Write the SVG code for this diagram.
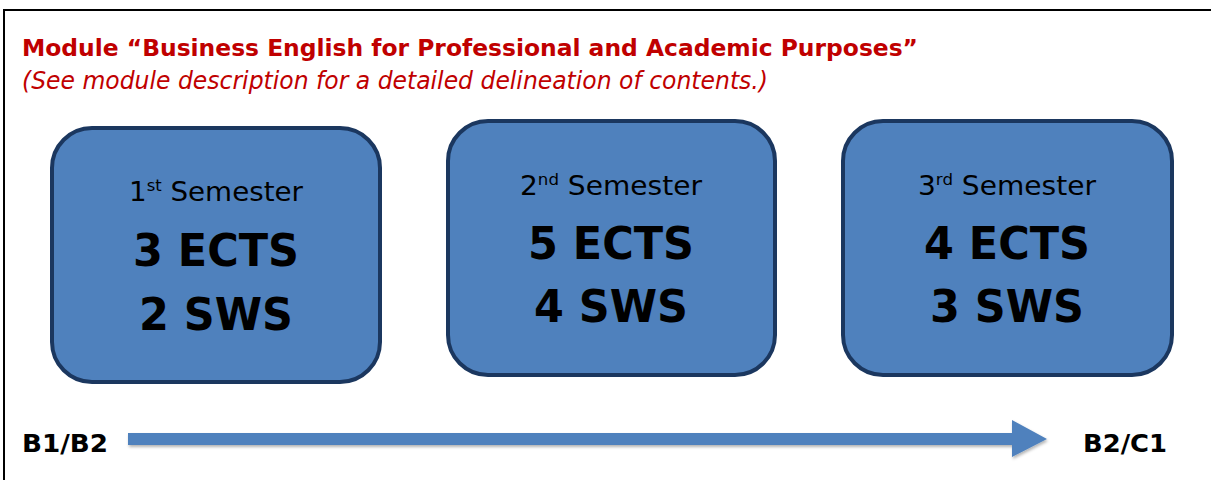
<svg xmlns="http://www.w3.org/2000/svg" width="1211" height="480" viewBox="0 0 1211 480">
<style>
.box{fill:#4F81BD;stroke:#1B375F;stroke-width:4}
.sem{font-family:"DejaVu Sans",sans-serif;font-size:27px;fill:#000;text-anchor:middle}
.big{font-family:"DejaVu Sans",sans-serif;font-weight:bold;font-size:45px;fill:#000;text-anchor:middle}
.lvl{font-family:"DejaVu Sans",sans-serif;font-weight:bold;font-size:25px;fill:#000}
.red{font-family:"DejaVu Sans",sans-serif;fill:#C00000}
</style>
<defs>
<filter id="sh" x="-5%" y="-50%" width="110%" height="200%"><feDropShadow dx="1" dy="2" stdDeviation="1.5" flood-color="#000" flood-opacity="0.3"/></filter>
</defs>
<rect width="1211" height="480" fill="#fff"/>
<path d="M4 480 V10 H1211" fill="none" stroke="#000" stroke-width="2"/>
<g id="title">
<text class="red" x="22" y="56" font-weight="bold" font-size="23" textLength="896" lengthAdjust="spacingAndGlyphs">Module “Business English for Professional and Academic Purposes”</text>
<text class="red" x="22" y="89" font-style="italic" font-size="24" textLength="746" lengthAdjust="spacingAndGlyphs">(See module description for a detailed delineation of contents.)</text>
</g>
<g id="sem1">
<rect class="box" x="52" y="128" width="328" height="254" rx="40"/>
<text class="sem" x="216" y="201" textLength="174" lengthAdjust="spacingAndGlyphs">1<tspan font-size="16" dy="-10">st</tspan><tspan dy="10"> Semester</tspan></text>
<text class="big" x="216" y="266" textLength="166" lengthAdjust="spacingAndGlyphs">3 ECTS</text>
<text class="big" x="216" y="330" textLength="154" lengthAdjust="spacingAndGlyphs">2 SWS</text>
</g>
<g id="sem2">
<rect class="box" x="448" y="121" width="327" height="254" rx="40"/>
<text class="sem" x="611" y="195" textLength="182" lengthAdjust="spacingAndGlyphs">2<tspan font-size="16" dy="-10">nd</tspan><tspan dy="10"> Semester</tspan></text>
<text class="big" x="611" y="259" textLength="166" lengthAdjust="spacingAndGlyphs">5 ECTS</text>
<text class="big" x="611" y="322" textLength="154" lengthAdjust="spacingAndGlyphs">4 SWS</text>
</g>
<g id="sem3">
<rect class="box" x="843" y="121" width="329" height="254" rx="40"/>
<text class="sem" x="1007" y="195" textLength="178" lengthAdjust="spacingAndGlyphs">3<tspan font-size="16" dy="-10">rd</tspan><tspan dy="10"> Semester</tspan></text>
<text class="big" x="1007" y="259" textLength="166" lengthAdjust="spacingAndGlyphs">4 ECTS</text>
<text class="big" x="1007" y="322" textLength="154" lengthAdjust="spacingAndGlyphs">3 SWS</text>
</g>
<g id="lvl-start"><text class="lvl" x="22" y="452" textLength="86" lengthAdjust="spacingAndGlyphs">B1/B2</text></g>
<g id="lvl-end"><text class="lvl" x="1083" y="452" textLength="84" lengthAdjust="spacingAndGlyphs">B2/C1</text></g>
<g id="connectors">
<path d="M128 433 H1012 V420 L1047 439 L1012 457 V445 H128 Z" fill="#4F81BD" filter="url(#sh)"/>
</g>
</svg>
